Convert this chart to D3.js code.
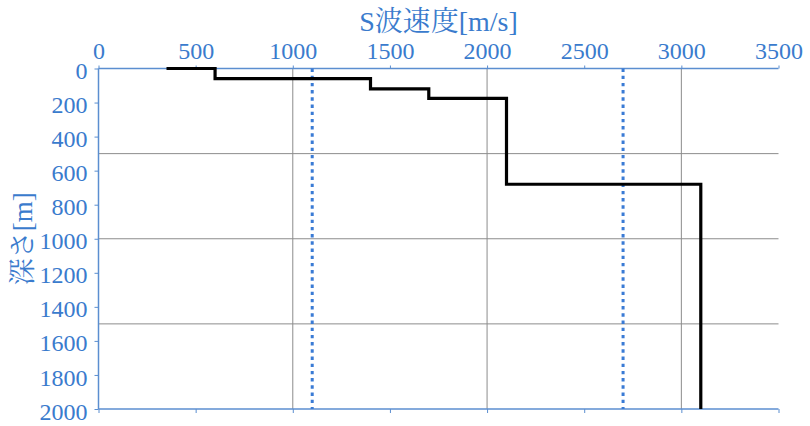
<!DOCTYPE html>
<html><head><meta charset="utf-8">
<script src="https://cdn.jsdelivr.net/npm/d3@7"></script>
<style>body{margin:0;background:#fff}</style>
</head><body>
<svg id="c" width="810" height="426"></svg>
<script>
const velocity = [350, 600, 600, 1400, 1400, 1700, 1700, 2100, 2100, 3100, 3100];
const depth    = [0,   0,   60,  60,   120,  120,  175,  175,  680,  680,  2000];
const refVelocities = [1100, 2700];
const xTicks = [0, 500, 1000, 1500, 2000, 2500, 3000, 3500];
const yTicks = [0, 200, 400, 600, 800, 1000, 1200, 1400, 1600, 1800, 2000];
const xGrid = [1000, 2000, 3000];
const yGrid = [500, 1000, 1500];
const xTitle = "S波速度[m/s]";
const yTitle = "深さ[m]";

const svg = d3.select("#c");
const m = {l: 98.5, r: 778.5, t: 68.5, b: 409};
const x = d3.scaleLinear().domain([0, 3500]).range([m.l, m.r]);
const y = d3.scaleLinear().domain([0, 2000]).range([m.t, m.b]);
const blue = "#3a7bcd", axisBlue = "#5b8ed0";
const ff = '"Liberation Serif", "Noto Serif CJK JP", serif';

// gridlines
svg.append("g").selectAll("line").data(xGrid).join("line")
  .attr("x1", d => x(d)).attr("x2", d => x(d)).attr("y1", m.t).attr("y2", m.b)
  .attr("stroke", "#8c8c8c").attr("stroke-width", 1);
svg.append("g").selectAll("line").data(yGrid).join("line")
  .attr("x1", m.l).attr("x2", m.r).attr("y1", d => y(d)).attr("y2", d => y(d))
  .attr("stroke", "#8c8c8c").attr("stroke-width", 1);

// top axis (labels)
const gTop = svg.append("g").attr("transform", `translate(0,${m.t})`)
  .call(d3.axisTop(x).tickValues(xTicks).tickSize(3).tickPadding(7).tickFormat(d3.format("d")));
// bottom axis (ticks only)
const gBot = svg.append("g").attr("transform", `translate(0,${m.b})`)
  .call(d3.axisBottom(x).tickValues(xTicks).tickSize(4).tickFormat(""));
// left axis
const gLeft = svg.append("g").attr("transform", `translate(${m.l},0)`)
  .call(d3.axisLeft(y).tickValues(yTicks).tickSize(4).tickPadding(7).tickFormat(d3.format("d")));

[gTop, gBot, gLeft].forEach(g => {
  g.attr("font-family", null);
  g.select(".domain").attr("stroke", axisBlue).attr("stroke-width", 1.5);
  g.selectAll(".tick line").attr("stroke", axisBlue);
  g.selectAll("text").attr("fill", blue).style("font-family", ff).style("font-size", "24px");
});
gLeft.selectAll("text").attr("dy", "0.42em");
gTop.select(".domain").attr("d", `M${m.l},0H${m.r}`);
gBot.select(".domain").attr("d", `M${m.l},0H${m.r}`);
gLeft.select(".domain").attr("d", `M0,${m.t}V${m.b}`);

// reference dotted lines
svg.append("g").selectAll("line").data(refVelocities).join("line")
  .attr("x1", d => x(d)).attr("x2", d => x(d)).attr("y1", y(0)).attr("y2", y(2000))
  .attr("stroke", "#3a7bd5").attr("stroke-width", 3).attr("stroke-dasharray", "3.4,3.8");

// step profile
const pts = velocity.map((v, i) => [v, depth[i]]);
svg.append("path").datum(pts)
  .attr("d", d3.line().x(d => x(d[0])).y(d => y(d[1])))
  .attr("fill", "none").attr("stroke", "#000").attr("stroke-width", 3.2).attr("stroke-linejoin", "miter");

// titles
svg.append("text").attr("x", (m.l + m.r) / 2).attr("y", 31).attr("text-anchor", "middle")
  .attr("fill", blue).style("font-family", ff).style("font-size", "28px").text(xTitle);
svg.append("text").attr("transform", `translate(32,${(m.t + m.b) / 2}) rotate(-90)`)
  .attr("text-anchor", "middle").attr("fill", blue).style("font-family", ff).style("font-size", "27px").text(yTitle);
</script>
</body></html>
